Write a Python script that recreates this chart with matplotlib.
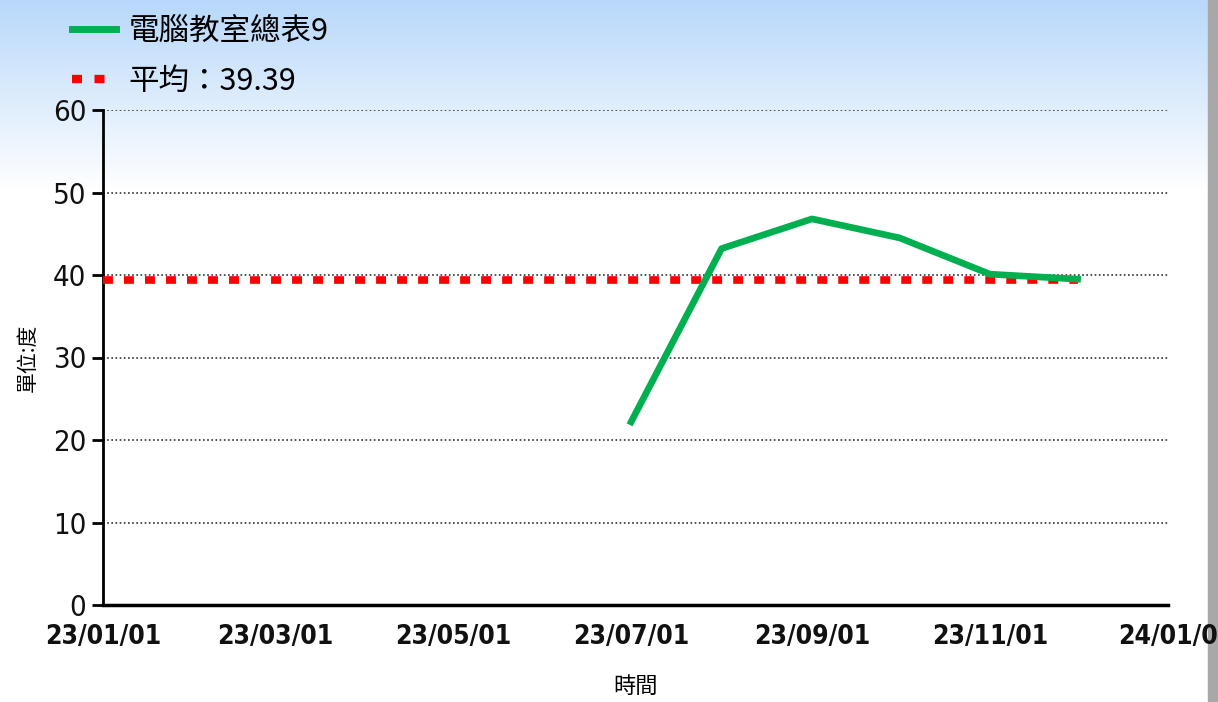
import matplotlib
matplotlib.use("Agg")
import matplotlib.pyplot as plt
import matplotlib.dates as mdates
from matplotlib.lines import Line2D
from matplotlib.patches import Rectangle
from matplotlib import font_manager
import numpy as np
from datetime import datetime

# ---- data ----
dates = ["2023-07-01", "2023-08-01", "2023-09-01", "2023-10-01", "2023-11-01", "2023-12-01"]
values = [22.2, 43.2, 46.8, 44.5, 40.1, 39.5]
avg_value = 39.39
avg_start = "2023-01-01"
avg_end = "2023-12-01"
series_name = "電腦教室總表9"
avg_label = "平均：39.39"
xtick_dates = ["2023-01-01", "2023-03-01", "2023-05-01", "2023-07-01", "2023-09-01", "2023-11-01", "2024-01-01"]
xtick_labels = ["23/01/01", "23/03/01", "23/05/01", "23/07/01", "23/09/01", "23/11/01", "24/01/0"]
xgrid_dates = ["2023-01-01", "2023-05-01", "2023-09-01", "2023-11-01", "2024-01-01"]
yticks = [0, 10, 20, 30, 40, 50, 60]
ylabel = "單位:度"
xlabel = "時間"

def d(s):
    return datetime.strptime(s, "%Y-%m-%d")

names = {f.name for f in font_manager.fontManager.ttflist}
cond = [f for f in font_manager.fontManager.ttflist
        if f.name == "DejaVu Sans" and f.stretch in ("condensed", "semi-condensed")]
if "Liberation Sans Narrow" in names:
    tick_family, tick_stretch = ["Liberation Sans Narrow", "DejaVu Sans"], "normal"
elif cond:
    tick_family, tick_stretch = ["DejaVu Sans"], "condensed"
else:
    tick_family, tick_stretch = ["Liberation Sans", "DejaVu Sans"], "normal"

W, H = 1218, 702
fig = plt.figure(figsize=(W / 100, H / 100), dpi=100)

# background gradient
bg = fig.add_axes([0, 0, 1, 1], zorder=-10)
bg.set_axis_off()
rows = np.linspace(0, 1, H)
top = np.array([184, 216, 250]) / 255.0
white = np.array([1.0, 1.0, 1.0])
t = np.clip(rows / (190 / H), 0, 1)[:, None]
grad = top * (1 - t) + white * t
img = np.repeat(grad[:, None, :], 2, axis=1)
bg.imshow(img, aspect="auto", extent=[0, 1, 0, 1], origin="upper")
bg.add_patch(Rectangle((1208 / W, 0), 10 / W, 1, color="#a8a8a8", transform=bg.transAxes))
bg.set_xlim(0, 1)
bg.set_ylim(0, 1)

ax = fig.add_axes([103 / W, 1 - 605 / H, (1168 - 103) / W, (605 - 110) / H])
ax.patch.set_alpha(0)

xd = [d(s) for s in dates]
ax.plot([d(avg_start), d(avg_end)], [avg_value, avg_value], color="#ff0000", lw=5.5,
        linestyle=(0, (1.3, 1.45)), solid_capstyle="butt", dash_capstyle="butt", zorder=3)
ax.plot(xd, values, color="#00b050", lw=4.8, zorder=4, solid_joinstyle="round")

ax.set_xlim(d("2023-01-01"), d("2024-01-01"))
ax.set_ylim(0, 60)

cjk = ["Noto Sans CJK TC", "DejaVu Sans"]

ax.set_yticks(yticks)
ax.set_yticklabels([str(v) for v in yticks], family=tick_family, stretch=tick_stretch,
                   fontsize=21, color="#111111")
ax.set_xticks([mdates.date2num(d(s)) for s in xtick_dates])
ax.set_xticklabels(xtick_labels, family=tick_family, stretch=tick_stretch, fontsize=19,
                   fontweight="bold", color="#111111")
ax.set_xticks([mdates.date2num(d(s)) for s in xgrid_dates], minor=True)
ax.tick_params(axis="x", which="major", length=0, pad=14)
ax.tick_params(axis="x", which="minor", length=8, width=1.5, direction="out")
ax.tick_params(axis="y", which="major", length=8, width=2, pad=4)

ax.grid(True, axis="y", which="major", color="#333333", linestyle=(0, (1, 1.5)), lw=1.2)
ax.grid(True, axis="x", which="minor", color="#333333", linestyle=(0, (1, 1.5)), lw=1.2)

for s in ["top", "right"]:
    ax.spines[s].set_visible(False)
ax.spines["left"].set_linewidth(2)
ax.spines["bottom"].set_linewidth(2.5)

ax.set_ylabel(ylabel, family=cjk, fontsize=15, labelpad=10)
ax.set_xlabel(xlabel, family=cjk, fontsize=16, labelpad=18)

handles = [
    Line2D([0], [0], color="#00b050", lw=5),
    Line2D([0], [0], color="#ff0000", lw=6, linestyle=(0, (1.2, 1.5)), dash_capstyle="butt"),
]
fig.legend(handles, [series_name, avg_label], loc="upper left", bbox_to_anchor=(44 / W, 1 + 12 / H),
           frameon=False, prop={"family": cjk, "size": 22}, handlelength=1.45,
           labelspacing=0.62, handletextpad=0.42)

fig.savefig("out.png", dpi=100)
